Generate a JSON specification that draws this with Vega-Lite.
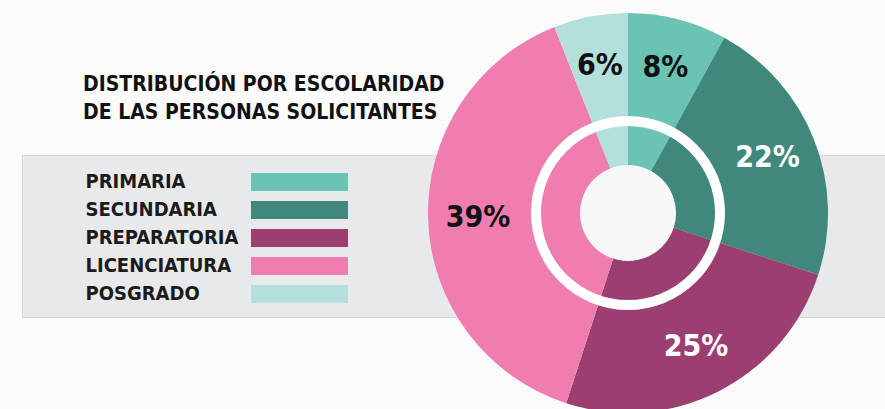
{
  "$schema": "https://vega.github.io/schema/vega-lite/v6.json",
  "background": "#fbfbfb",
  "autosize": "none",
  "width": 863,
  "height": 162,
  "padding": {"left": 22, "top": 155, "right": 0, "bottom": 92},
  "view": {"fill": "#e8e9ea", "stroke": "#d6d7d8", "strokeWidth": 1},
  "title": {
    "text": ["DISTRIBUCIÓN POR ESCOLARIDAD", "DE LAS PERSONAS SOLICITANTES"],
    "anchor": "start",
    "dx": 61,
    "dy": 142,
    "offset": 32,
    "font": "'Liberation Sans Narrow', 'DejaVu Sans Condensed', Roboto, sans-serif",
    "fontSize": 21,
    "fontWeight": "bold",
    "lineHeight": 28,
    "color": "#111111"
  },
  "data": {
    "values": [
      {"level": "PRIMARIA", "idx": 1, "pct": 0.08},
      {"level": "SECUNDARIA", "idx": 2, "pct": 0.22},
      {"level": "PREPARATORIA", "idx": 3, "pct": 0.25},
      {"level": "LICENCIATURA", "idx": 4, "pct": 0.39},
      {"level": "POSGRADO", "idx": 5, "pct": 0.06}
    ]
  },
  "layer": [
    {
      "mark": {"type": "arc", "outerRadius": 200, "xOffset": 174.5, "yOffset": -23},
      "encoding": {
        "theta": {"field": "pct", "type": "quantitative", "stack": true},
        "order": {"field": "idx", "type": "quantitative"},
        "color": {
          "field": "level",
          "type": "nominal",
          "scale": {
            "domain": ["PRIMARIA", "SECUNDARIA", "PREPARATORIA", "LICENCIATURA", "POSGRADO"],
            "range": ["#6bc3b4", "#40877c", "#9b3f71", "#ef7db0", "#b3e0dd"]
          },
          "legend": {
            "orient": "none",
            "legendX": 66,
            "legendY": 17,
            "title": null,
            "symbolType": "M-5.39,-1H5.39V1H-5.39Z",
            "symbolSize": 324,
            "symbolStrokeWidth": 0,
            "symbolOpacity": 1,
            "symbolOffset": 201.5,
            "labelOffset": -224,
            "labelLimit": 400,
            "rowPadding": 8,
            "labelFont": "'Liberation Sans Narrow', 'DejaVu Sans Condensed', Roboto, sans-serif",
            "labelFontSize": 20,
            "labelFontWeight": "bold",
            "labelColor": "#1b1b1b",
            "padding": 0
          }
        }
      }
    },
    {
      "transform": [{"filter": "datum.idx == 1"}],
      "mark": {"type": "point", "shape": "circle", "size": 33856, "filled": false, "color": "white", "strokeWidth": 10, "opacity": 1, "xOffset": 174.5, "yOffset": -23},
      "encoding": {}
    },
    {
      "transform": [{"filter": "datum.idx == 1"}],
      "mark": {"type": "point", "shape": "circle", "size": 9216, "filled": true, "color": "#f7f7f7", "strokeWidth": 0, "opacity": 1, "xOffset": 174.5, "yOffset": -23},
      "encoding": {}
    },
    {
      "mark": {
        "type": "text",
        "radius": 150,
        "xOffset": 174.5,
        "yOffset": -23,
        "font": "'Liberation Sans Narrow', 'DejaVu Sans Condensed', Roboto, sans-serif",
        "fontSize": 30,
        "fontWeight": "bold"
      },
      "encoding": {
        "theta": {"field": "pct", "type": "quantitative", "stack": true},
        "order": {"field": "idx", "type": "quantitative"},
        "detail": {"field": "level", "type": "nominal"},
        "text": {"field": "pct", "type": "quantitative", "format": ".0%"},
        "color": {
          "condition": {"test": "datum.level === 'SECUNDARIA' || datum.level === 'PREPARATORIA'", "value": "white"},
          "value": "#111111"
        }
      }
    }
  ]
}
